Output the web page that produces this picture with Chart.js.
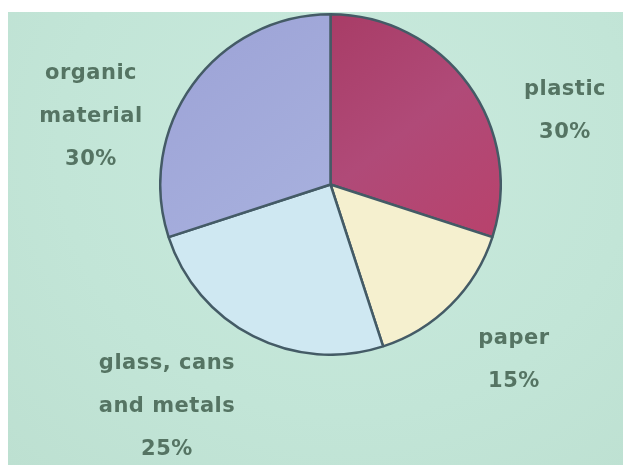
<!DOCTYPE html>
<html lang="en">
<head>
  <meta charset="UTF-8">
  <title>Waste composition</title>
  <script src="https://cdn.jsdelivr.net/npm/chart.js"></script>
  <style>
    html, body { margin: 0; padding: 0; background: #ffffff; }
    .fundo {
      position: absolute; left: 8px; top: 12px; width: 615px; height: 453px;
      background: radial-gradient(ellipse at 55% 30%, #c9eadd 0%, #c2e5d7 60%, #bde0d1 100%);
      overflow: hidden;
    }
    .pizza { position: absolute; left: 151px; top: 1px; width: 343px; height: 343px; }
    .rotulo {
      position: absolute; width: 220px; text-align: center;
      font-family: "DejaVu Sans", sans-serif; font-size: 21px; font-weight: bold; line-height: 43px;
      color: #557463; letter-spacing: 0.5px; filter: blur(0.7px);
    }
  </style>
</head>
<body>
  <div class="fundo">
    <div class="pizza"><canvas id="myChart"></canvas></div>
    <div id="rotulos"></div>
  </div>

<script>
  // dados (sentido horario a partir do topo)
  var categorias = ['plastic', 'paper', 'glass, cans and metals', 'organic material'];
  var linhas = [['plastic'], ['paper'], ['glass, cans', 'and metals'], ['organic', 'material']];
  var percentuais = [30, 15, 25, 30];

  var cores = ['#ad4270', '#f5f0cf', '#cfe8f2', '#a1a7d9'];
  // posicao dos rotulos (centro x, topo) relativo ao fundo
  var posRotulos = [[557, 55], [506, 304], [159, 329], [83, 39]];

  var rotulos = document.getElementById('rotulos');
  for (var i = 0; i < categorias.length; i++) {
    var div = document.createElement('div');
    div.className = 'rotulo';
    div.style.left = (posRotulos[i][0] - 110) + 'px';
    div.style.top = posRotulos[i][1] + 'px';
    div.innerHTML = linhas[i].join('<br>') + '<br>' + percentuais[i] + '%';
    rotulos.appendChild(div);
  }

  function corFatia(ctx) {
    var c = ctx.chart.ctx;
    var area = ctx.chart.chartArea;
    if (!area) return cores[ctx.dataIndex];
    if (ctx.dataIndex == 0) {
      var g = c.createLinearGradient(area.left + 170, area.top, area.right, area.top + 220);
      g.addColorStop(0, '#a83c66');
      g.addColorStop(0.5, '#b04a78');
      g.addColorStop(1, '#b8426c');
      return g;
    }
    if (ctx.dataIndex == 3) {
      var g2 = c.createLinearGradient(area.left, area.top, area.left + 170, area.top + 220);
      g2.addColorStop(0, '#9ca2d6');
      g2.addColorStop(1, '#a8b1de');
      return g2;
    }
    return cores[ctx.dataIndex];
  }

  const config = {
    type: 'pie',
    data: {
      labels: categorias,
      datasets: [{
        data: percentuais,
        backgroundColor: corFatia,
        borderColor: '#445b66',
        borderWidth: 2.5
      }]
    },
    options: {
      responsive: true,
      maintainAspectRatio: false,
      animation: false,
      events: [],
      plugins: {
        legend: { display: false },
        tooltip: { enabled: false }
      }
    }
  };

  let myChart = new Chart(document.getElementById('myChart'), config);
</script>
</body>
</html>
